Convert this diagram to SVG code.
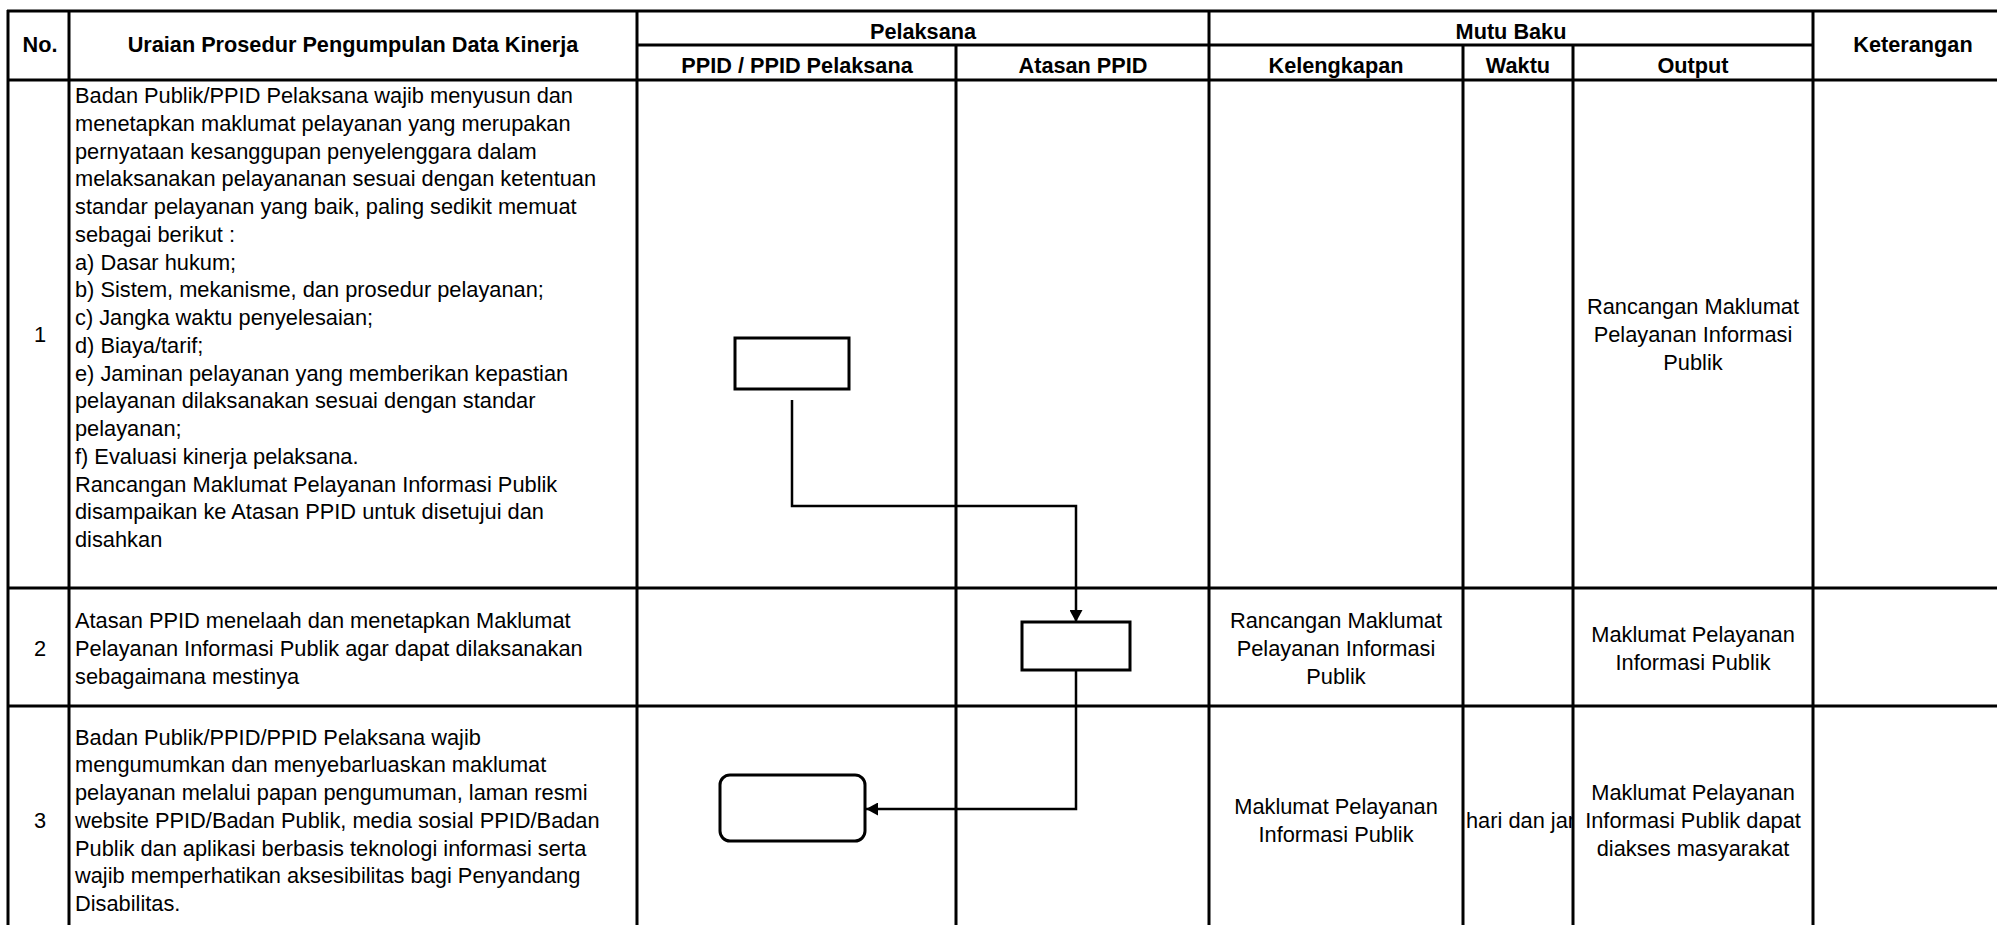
<svg xmlns="http://www.w3.org/2000/svg" width="1997" height="925" viewBox="0 0 1997 925">
<style>
.g{stroke:#000;stroke-width:3;fill:none}
.t{font-family:"Liberation Sans",Arial,sans-serif;font-size:21.8px;fill:#000}
.h{font-family:"Liberation Sans",Arial,sans-serif;font-size:21.7px;font-weight:bold;fill:#000;text-anchor:middle}
.c{text-anchor:middle}
.box{fill:#fff;stroke:#000;stroke-width:3}
.con{fill:none;stroke:#000;stroke-width:2.5}
</style>
<defs>
<marker id="arr" markerWidth="13" markerHeight="13" refX="12" refY="6.5" orient="auto" markerUnits="userSpaceOnUse">
<path d="M0,0 L12,6.5 L0,13 Z" fill="#000"/>
</marker>
<clipPath id="wclip"><rect x="1465" y="706" width="107" height="219"/></clipPath>
</defs>
<rect x="0" y="0" width="1997" height="925" fill="#fff"/>
<g id="grid" class="g">
<line x1="7" y1="11" x2="1997" y2="11"/>
<line x1="637" y1="45" x2="1813" y2="45"/>
<line x1="7" y1="80" x2="1997" y2="80"/>
<line x1="7" y1="588" x2="1997" y2="588"/>
<line x1="7" y1="706" x2="1997" y2="706"/>
<line x1="8" y1="10" x2="8" y2="925"/>
<line x1="69" y1="11" x2="69" y2="925"/>
<line x1="637" y1="11" x2="637" y2="925"/>
<line x1="956" y1="45" x2="956" y2="925"/>
<line x1="1209" y1="11" x2="1209" y2="925"/>
<line x1="1463" y1="45" x2="1463" y2="925"/>
<line x1="1573" y1="45" x2="1573" y2="925"/>
<line x1="1813" y1="11" x2="1813" y2="925"/>
</g>
<g id="header">
<text class="h" x="40" y="52">No.</text>
<text class="h" x="353" y="52">Uraian Prosedur Pengumpulan Data Kinerja</text>
<text class="h" x="923" y="39">Pelaksana</text>
<text class="h" x="1511" y="39">Mutu Baku</text>
<text class="h" x="1913" y="52">Keterangan</text>
<text class="h" x="797" y="73">PPID / PPID Pelaksana</text>
<text class="h" x="1083" y="73">Atasan PPID</text>
<text class="h" x="1336" y="73">Kelengkapan</text>
<text class="h" x="1518" y="73">Waktu</text>
<text class="h" x="1693" y="73">Output</text>
</g>
<g id="row1">
<text class="t c" x="40" y="342">1</text>
<text class="t" x="75" y="103">Badan Publik/PPID Pelaksana wajib menyusun dan</text>
<text class="t" x="75" y="130.75">menetapkan maklumat pelayanan yang merupakan</text>
<text class="t" x="75" y="158.5">pernyataan kesanggupan penyelenggara dalam</text>
<text class="t" x="75" y="186.25">melaksanakan pelayananan sesuai dengan ketentuan</text>
<text class="t" x="75" y="214">standar pelayanan yang baik, paling sedikit memuat</text>
<text class="t" x="75" y="241.75">sebagai berikut :</text>
<text class="t" x="75" y="269.5">a) Dasar hukum;</text>
<text class="t" x="75" y="297.25">b) Sistem, mekanisme, dan prosedur pelayanan;</text>
<text class="t" x="75" y="325">c) Jangka waktu penyelesaian;</text>
<text class="t" x="75" y="352.75">d) Biaya/tarif;</text>
<text class="t" x="75" y="380.5">e) Jaminan pelayanan yang memberikan kepastian</text>
<text class="t" x="75" y="408.25">pelayanan dilaksanakan sesuai dengan standar</text>
<text class="t" x="75" y="436">pelayanan;</text>
<text class="t" x="75" y="463.75">f) Evaluasi kinerja pelaksana.</text>
<text class="t" x="75" y="491.5">Rancangan Maklumat Pelayanan Informasi Publik</text>
<text class="t" x="75" y="519.25">disampaikan ke Atasan PPID untuk disetujui dan</text>
<text class="t" x="75" y="547">disahkan</text>
<text class="t c" x="1693" y="314">Rancangan Maklumat</text>
<text class="t c" x="1693" y="342">Pelayanan Informasi</text>
<text class="t c" x="1693" y="370">Publik</text>
</g>
<g id="row2">
<text class="t c" x="40" y="656">2</text>
<text class="t" x="75" y="628">Atasan PPID menelaah dan menetapkan Maklumat</text>
<text class="t" x="75" y="656">Pelayanan Informasi Publik agar dapat dilaksanakan</text>
<text class="t" x="75" y="684">sebagaimana mestinya</text>
<text class="t c" x="1336" y="628">Rancangan Maklumat</text>
<text class="t c" x="1336" y="656">Pelayanan Informasi</text>
<text class="t c" x="1336" y="684">Publik</text>
<text class="t c" x="1693" y="642">Maklumat Pelayanan</text>
<text class="t c" x="1693" y="670">Informasi Publik</text>
</g>
<g id="row3">
<text class="t c" x="40" y="828">3</text>
<text class="t" x="75" y="744.5">Badan Publik/PPID/PPID Pelaksana wajib</text>
<text class="t" x="75" y="772.25">mengumumkan dan menyebarluaskan maklumat</text>
<text class="t" x="75" y="800">pelayanan melalui papan pengumuman, laman resmi</text>
<text class="t" x="75" y="827.75">website PPID/Badan Publik, media sosial PPID/Badan</text>
<text class="t" x="75" y="855.5">Publik dan aplikasi berbasis teknologi informasi serta</text>
<text class="t" x="75" y="883.25">wajib memperhatikan aksesibilitas bagi Penyandang</text>
<text class="t" x="75" y="911">Disabilitas.</text>
<text class="t c" x="1336" y="814">Maklumat Pelayanan</text>
<text class="t c" x="1336" y="842">Informasi Publik</text>
<text class="t" x="1466" y="828" clip-path="url(#wclip)">hari dan jam</text>
<text class="t c" x="1693" y="800">Maklumat Pelayanan</text>
<text class="t c" x="1693" y="828">Informasi Publik dapat</text>
<text class="t c" x="1693" y="856">diakses masyarakat</text>
</g>
<g id="node1"><rect class="box" x="735" y="338" width="114" height="51"/></g>
<g id="node2"><rect class="box" x="1022" y="622" width="108" height="48"/></g>
<g id="node3"><rect class="box" x="720" y="775" width="145" height="66" rx="10" ry="10"/></g>
<g id="connectors">
<path class="con" d="M792,400 V506 H1076 V622" marker-end="url(#arr)"/>
<path class="con" d="M1076,670 V809 H866" marker-end="url(#arr)"/>
</g>
</svg>
